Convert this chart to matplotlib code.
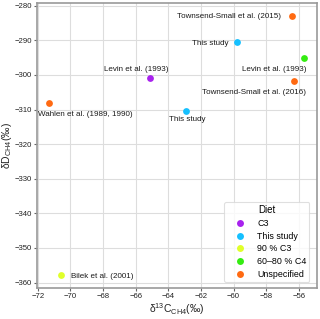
import matplotlib
matplotlib.use("Agg")
import matplotlib.pyplot as plt
from matplotlib.lines import Line2D

plt.rcParams['font.family'] = ['Liberation Sans', 'DejaVu Sans']
plt.rcParams['mathtext.default'] = 'regular'

# data
labels = ["Wahlen et al. (1989, 1990)", "Levin et al. (1993)", "Townsend-Small et al. (2015)",
          "This study", "Levin et al. (1993)", "Townsend-Small et al. (2016)",
          "This study", "Bilek et al. (2001)"]
d13c = [-71.3, -65.1, -56.4, -59.8, -55.7, -56.3, -62.9, -70.6]
dD = [-308.0, -301.0, -283.0, -290.5, -295.0, -301.8, -310.4, -357.9]
diet = ["Unspecified", "C3", "Unspecified", "This study", "60–80 % C4", "Unspecified",
        "This study", "90 % C3"]
diet_order = ["C3", "This study", "90 % C3", "60–80 % C4", "Unspecified"]
diet_colors = {"C3": "#a822ee", "This study": "#15c0ff", "90 % C3": "#e0ff2a",
               "60–80 % C4": "#35ec12", "Unspecified": "#ff6a12"}

# label placement (pixel offsets, alignment)
label_style = [((-11, -12), 'left'), ((18, 9), 'right'), ((-11, 0), 'right'),
               ((-8, -1.5), 'right'), ((3, -12), 'right'), ((12.5, -11), 'right'),
               ((1, -9), 'center'), ((10, -1), 'left')]

fig = plt.figure(figsize=(3.2, 3.19), dpi=100)
ax = fig.add_axes([0.1156, 0.098, 0.874, 0.8926])

for x, y, d in zip(d13c, dD, diet):
    ax.scatter(x, y, s=24, color=diet_colors[d], zorder=3, linewidths=0)

for x, y, lab, (off, ha) in zip(d13c, dD, labels, label_style):
    ax.annotate(lab, xy=(x, y), xytext=off, textcoords='offset pixels',
                ha=ha, va='center', fontsize=5.8, color='#1a1a1a')

ax.set_xlim(-72.05, -54.9)
ax.set_ylim(-361.5, -279.2)
ax.set_xticks(range(-72, -55, 2))
ax.set_yticks(range(-360, -279, 10))
ax.xaxis.set_major_formatter(matplotlib.ticker.FuncFormatter(lambda v, p: f"\u2212{abs(int(v))}"))
ax.yaxis.set_major_formatter(matplotlib.ticker.FuncFormatter(lambda v, p: f"\u2212{abs(int(v))}"))
ax.tick_params(labelsize=5.6, length=2.5, width=0.8, color='#666666', labelcolor='#222222', pad=1)
ax.grid(True, color='#dddddd', linewidth=0.8, zorder=0)
ax.set_axisbelow(True)
for s in ax.spines.values():
    s.set_color('#999999')
    s.set_linewidth(1.2)

ax.set_xlabel("δ$^{13}$C$_{CH4}$(‰)", fontsize=7.5, labelpad=1.5, color='#222222')
ax.set_ylabel("δD$_{CH4}$(‰)", fontsize=7.5, labelpad=0.8, color='#222222')

handles = [Line2D([], [], marker='o', linestyle='', markersize=5, markeredgewidth=0,
                  color=diet_colors[d]) for d in diet_order]
leg = ax.legend(handles, diet_order, title="Diet", loc='lower left', fontsize=6.4,
                title_fontsize=7, frameon=True, labelspacing=0.43, handletextpad=0.45,
                borderpad=0.3, borderaxespad=0, bbox_to_anchor=(0.6686, 0.021),
                handlelength=3.0)
leg.get_frame().set_edgecolor('#d8d8d8')
leg.get_frame().set_linewidth(0.8)

fig.savefig("out.png", dpi=100)
